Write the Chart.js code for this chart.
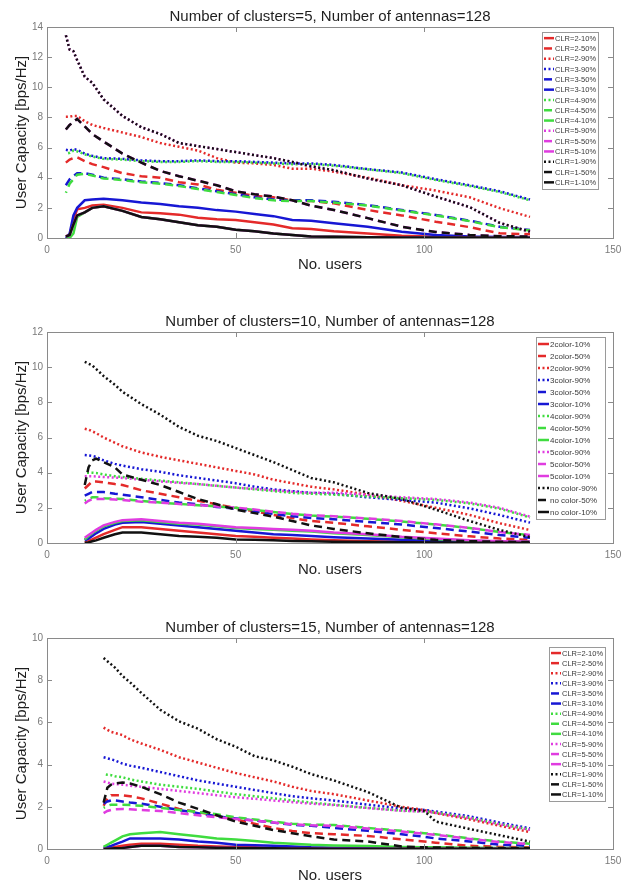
<!DOCTYPE html>
<html>
<head>
<meta charset="utf-8">
<script src="https://cdn.jsdelivr.net/npm/chart.js@4/dist/chart.umd.min.js"></script>
<style>
  html, body { margin: 0; padding: 0; background: #fff; }
  body { width: 634px; height: 883px; position: relative; overflow: hidden; }
  canvas { position: absolute; left: 0; }
</style>
</head>
<body>
<canvas id="c5" width="634" height="274" style="top:0px"></canvas>
<canvas id="c10" width="634" height="274" style="top:305px"></canvas>
<canvas id="c15" width="634" height="274" style="top:611px"></canvas>
<script>
// ---- 5 clusters ----
const u5 = [5, 6, 7, 8, 10, 12, 15, 20, 25, 30, 35, 40, 45, 50, 55, 60, 65, 70, 76, 85, 94, 103, 112, 120, 128];
const c5_2_10 = [0.1, 0.2, 1.2, 1.9, 2.0, 2.15, 2.2, 2.0, 1.7, 1.65, 1.55, 1.35, 1.25, 1.2, 1.05, 0.9, 0.65, 0.6, 0.45, 0.3, 0.15, 0.08, 0.05, 0.04, 0.03];
const c5_2_50 = [5.0, 5.2, 5.3, 5.35, 5.1, 4.9, 4.7, 4.3, 4.1, 4.0, 3.7, 3.55, 3.2, 3.0, 2.8, 2.7, 2.5, 2.45, 2.3, 1.86, 1.5, 1.08, 0.72, 0.31, 0.25];
const c5_2_90 = [8.05, 8.05, 8.1, 8.1, 7.75, 7.5, 7.3, 7.0, 6.7, 6.3, 6.05, 5.8, 5.3, 5.0, 4.95, 4.85, 4.6, 4.6, 4.4, 4.0, 3.5, 3.15, 2.7, 1.98, 1.4];
const c5_3_90 = [5.85, 5.8, 5.9, 5.85, 5.6, 5.45, 5.3, 5.25, 5.15, 5.1, 5.1, 5.15, 5.1, 5.1, 5.05, 5.0, 4.95, 4.95, 4.85, 4.57, 4.35, 3.9, 3.5, 3.1, 2.55];
const c5_3_50 = [3.5, 3.9, 4.1, 4.3, 4.3, 4.2, 4.0, 3.9, 3.75, 3.65, 3.5, 3.3, 3.1, 2.9, 2.7, 2.55, 2.5, 2.5, 2.4, 2.18, 1.86, 1.53, 1.15, 0.75, 0.53];
const c5_3_10 = [0.0, 0.3, 1.5, 2.0, 2.5, 2.55, 2.6, 2.5, 2.35, 2.25, 2.1, 2.0, 1.85, 1.75, 1.6, 1.45, 1.2, 1.15, 0.98, 0.75, 0.42, 0.2, 0.1, 0.06, 0.05];
const c5_4_90 = [5.6, 5.65, 5.8, 5.75, 5.55, 5.4, 5.25, 5.2, 5.1, 5.05, 5.05, 5.1, 5.05, 5.05, 5.0, 4.95, 4.9, 4.9, 4.8, 4.55, 4.3, 3.85, 3.45, 3.05, 2.5];
const c5_4_50 = [3.0, 3.6, 3.9, 4.2, 4.25, 4.15, 3.95, 3.85, 3.7, 3.6, 3.45, 3.25, 3.05, 2.85, 2.65, 2.5, 2.45, 2.45, 2.35, 2.15, 1.82, 1.5, 1.12, 0.72, 0.5];
const c5_4_10 = [0.0, 0.0, 0.3, 1.4, 1.7, 2.0, 2.1, 1.8, 1.4, 1.25, 1.05, 0.85, 0.75, 0.55, 0.45, 0.3, 0.2, 0.1, 0.08, 0.05, 0.04, 0.03, 0.03, 0.02, 0.02];
const c5_5_90 = [13.45, 12.5, 12.4, 11.8, 10.7, 10.3, 9.2, 8.1, 7.35, 6.9, 6.3, 6.1, 5.9, 5.7, 5.5, 5.3, 5.05, 4.75, 4.5, 3.95, 3.5, 2.75, 2.05, 1.0, 0.42];
const c5_5_50 = [7.2, 7.5, 7.7, 7.9, 7.4, 6.9, 6.4, 5.6, 5.0, 4.45, 4.1, 3.8, 3.5, 3.1, 2.9, 2.75, 2.5, 2.15, 1.86, 1.32, 0.75, 0.4, 0.2, 0.12, 0.1];
const c5_5_10 = [0.1, 0.2, 0.9, 1.5, 1.7, 2.0, 2.1, 1.8, 1.4, 1.25, 1.05, 0.85, 0.75, 0.55, 0.45, 0.3, 0.2, 0.1, 0.08, 0.05, 0.04, 0.03, 0.03, 0.02, 0.02];
const c5_1_90 = [13.45, 12.5, 12.4, 11.8, 10.7, 10.3, 9.2, 8.1, 7.35, 6.9, 6.3, 6.1, 5.9, 5.7, 5.5, 5.3, 5.05, 4.75, 4.5, 3.95, 3.5, 2.75, 2.05, 1.0, 0.42];
const c5_1_50 = [7.2, 7.5, 7.7, 7.9, 7.4, 6.9, 6.4, 5.6, 5.0, 4.45, 4.1, 3.8, 3.5, 3.1, 2.9, 2.75, 2.5, 2.15, 1.86, 1.32, 0.75, 0.4, 0.2, 0.12, 0.1];
const c5_1_10 = [0.1, 0.2, 0.9, 1.5, 1.7, 2.0, 2.1, 1.8, 1.4, 1.25, 1.05, 0.85, 0.75, 0.55, 0.45, 0.3, 0.2, 0.1, 0.08, 0.05, 0.04, 0.03, 0.03, 0.02, 0.02];

// ---- 10 clusters ----
const u10 = [10, 11, 12, 13, 15, 18, 20, 25, 30, 35, 40, 45, 50, 55, 60, 65, 70, 76, 85, 94, 103, 112, 120, 128];
const c10_2_10 = [0.05, 0.1, 0.2, 0.3, 0.5, 0.75, 0.9, 0.9, 0.8, 0.7, 0.6, 0.5, 0.4, 0.35, 0.3, 0.25, 0.2, 0.15, 0.1, 0.07, 0.05, 0.04, 0.03, 0.03];
const c10_2_50 = [3.1, 3.3, 3.5, 3.5, 3.45, 3.35, 3.3, 3.0, 2.8, 2.6, 2.4, 2.2, 2.0, 1.8, 1.6, 1.42, 1.25, 1.15, 0.95, 0.75, 0.55, 0.38, 0.25, 0.18];
const c10_2_90 = [6.5, 6.45, 6.35, 6.25, 6.0, 5.7, 5.5, 5.15, 4.9, 4.7, 4.5, 4.3, 4.1, 3.9, 3.6, 3.4, 3.2, 3.05, 2.75, 2.4, 2.0, 1.6, 1.12, 0.74];
const c10_3_90 = [5.0, 4.98, 4.95, 4.9, 4.7, 4.5, 4.4, 4.2, 4.05, 3.85, 3.7, 3.55, 3.4, 3.2, 3.05, 2.95, 2.85, 2.8, 2.6, 2.45, 2.3, 1.97, 1.59, 1.16];
const c10_3_50 = [2.7, 2.8, 2.9, 2.9, 2.9, 2.8, 2.75, 2.6, 2.45, 2.3, 2.2, 2.05, 1.95, 1.8, 1.65, 1.52, 1.42, 1.35, 1.2, 1.05, 0.85, 0.65, 0.45, 0.3];
const c10_3_10 = [0.15, 0.25, 0.4, 0.55, 0.8, 1.05, 1.15, 1.2, 1.1, 1.0, 0.9, 0.8, 0.7, 0.6, 0.5, 0.45, 0.4, 0.33, 0.25, 0.18, 0.12, 0.08, 0.06, 0.05];
const c10_4_90 = [4.0, 4.0, 4.0, 3.98, 3.9, 3.8, 3.75, 3.65, 3.55, 3.45, 3.35, 3.25, 3.15, 3.05, 2.95, 2.85, 2.8, 2.75, 2.65, 2.55, 2.45, 2.25, 1.95, 1.45];
const c10_4_50 = [2.4, 2.5, 2.6, 2.6, 2.55, 2.52, 2.5, 2.4, 2.3, 2.22, 2.15, 2.08, 2.0, 1.88, 1.76, 1.65, 1.56, 1.5, 1.38, 1.22, 1.05, 0.85, 0.62, 0.45];
const c10_4_10 = [0.2, 0.4, 0.55, 0.7, 0.95, 1.15, 1.25, 1.3, 1.2, 1.1, 1.05, 0.95, 0.85, 0.8, 0.75, 0.7, 0.65, 0.55, 0.45, 0.32, 0.22, 0.13, 0.09, 0.07];
const c10_5_90 = [3.8, 3.8, 3.8, 3.78, 3.75, 3.72, 3.7, 3.6, 3.5, 3.42, 3.35, 3.25, 3.15, 3.08, 3.0, 2.92, 2.85, 2.86, 2.75, 2.6, 2.5, 2.3, 2.0, 1.5];
const c10_5_50 = [2.25, 2.4, 2.5, 2.5, 2.5, 2.47, 2.45, 2.35, 2.3, 2.22, 2.15, 2.08, 2.02, 1.9, 1.78, 1.66, 1.58, 1.52, 1.4, 1.25, 1.06, 0.86, 0.62, 0.46];
const c10_5_10 = [0.3, 0.45, 0.6, 0.75, 1.0, 1.2, 1.3, 1.35, 1.25, 1.15, 1.1, 1.0, 0.9, 0.85, 0.8, 0.75, 0.7, 0.6, 0.5, 0.35, 0.25, 0.15, 0.1, 0.08];
const c10_1_90 = [10.3, 10.2, 10.1, 9.9, 9.5, 9.0, 8.6, 7.9, 7.3, 6.6, 6.1, 5.8, 5.4, 5.0, 4.6, 4.15, 3.7, 3.45, 2.85, 2.5, 1.9, 1.25, 0.74, 0.34];
const c10_1_50 = [3.3, 4.3, 4.7, 4.8, 4.6, 4.3, 3.9, 3.6, 3.3, 2.9, 2.5, 2.2, 1.9, 1.7, 1.5, 1.25, 1.0, 0.8, 0.55, 0.34, 0.18, 0.1, 0.07, 0.05];
const c10_1_10 = [0.0, 0.03, 0.1, 0.15, 0.3, 0.5, 0.6, 0.6, 0.5, 0.4, 0.35, 0.3, 0.2, 0.18, 0.15, 0.12, 0.1, 0.07, 0.05, 0.04, 0.03, 0.02, 0.02, 0.02];

// ---- 15 clusters ----
const u15 = [15, 16, 17, 18, 20, 22, 25, 30, 35, 40, 45, 50, 55, 60, 65, 70, 76, 85, 94, 100, 103, 112, 120, 128];
const c15_2_10 = [0.0, 0.03, 0.06, 0.1, 0.15, 0.2, 0.25, 0.25, 0.2, 0.15, 0.12, 0.1, 0.08, 0.05, 0.04, 0.03, 0.02, 0.02, 0.02, 0.02, 0.02, 0.02, 0.02, 0.02];
const c15_2_50 = [2.05, 2.4, 2.55, 2.55, 2.55, 2.5, 2.4, 2.15, 1.9, 1.75, 1.6, 1.4, 1.2, 1.0, 0.85, 0.75, 0.7, 0.62, 0.46, 0.35, 0.3, 0.15, 0.1, 0.08];
const c15_2_90 = [5.75, 5.65, 5.55, 5.5, 5.4, 5.2, 5.0, 4.7, 4.35, 4.1, 3.85, 3.6, 3.4, 3.2, 2.95, 2.75, 2.6, 2.3, 2.0, 1.85, 1.7, 1.4, 1.1, 0.8];
const c15_3_90 = [4.35, 4.3, 4.25, 4.2, 4.05, 3.95, 3.85, 3.65, 3.45, 3.25, 3.1, 2.95, 2.8, 2.65, 2.5, 2.4, 2.3, 2.1, 1.92, 1.85, 1.78, 1.55, 1.25, 0.98];
const c15_3_50 = [2.15, 2.25, 2.3, 2.3, 2.25, 2.2, 2.15, 2.0, 1.85, 1.7, 1.55, 1.45, 1.35, 1.25, 1.15, 1.1, 1.0, 0.86, 0.7, 0.58, 0.5, 0.36, 0.2, 0.15];
const c15_3_10 = [0.05, 0.1, 0.15, 0.22, 0.35, 0.5, 0.5, 0.5, 0.45, 0.35, 0.3, 0.2, 0.18, 0.15, 0.12, 0.08, 0.06, 0.05, 0.04, 0.03, 0.03, 0.03, 0.02, 0.02];
const c15_4_90 = [3.55, 3.52, 3.5, 3.45, 3.4, 3.3, 3.2, 3.05, 2.95, 2.85, 2.72, 2.6, 2.5, 2.4, 2.3, 2.2, 2.1, 1.95, 1.82, 1.78, 1.72, 1.48, 1.18, 0.92];
const c15_4_50 = [1.95, 2.05, 2.1, 2.1, 2.1, 2.08, 2.05, 1.95, 1.85, 1.75, 1.65, 1.5, 1.4, 1.3, 1.2, 1.15, 1.14, 1.0, 0.86, 0.75, 0.7, 0.5, 0.35, 0.25];
const c15_4_10 = [0.1, 0.2, 0.3, 0.4, 0.6, 0.7, 0.75, 0.8, 0.7, 0.6, 0.5, 0.45, 0.38, 0.3, 0.25, 0.2, 0.17, 0.14, 0.1, 0.08, 0.08, 0.06, 0.05, 0.05];
const c15_5_90 = [3.2, 3.15, 3.1, 3.08, 3.05, 3.0, 2.95, 2.85, 2.75, 2.65, 2.55, 2.45, 2.38, 2.3, 2.22, 2.15, 2.08, 1.94, 1.81, 1.77, 1.71, 1.47, 1.17, 0.91];
const c15_5_50 = [1.7, 1.8, 1.85, 1.88, 1.9, 1.88, 1.85, 1.8, 1.7, 1.6, 1.5, 1.42, 1.35, 1.26, 1.17, 1.12, 1.1, 0.97, 0.83, 0.72, 0.67, 0.48, 0.33, 0.23];
const c15_5_10 = [0.0, 0.01, 0.02, 0.03, 0.05, 0.1, 0.15, 0.15, 0.1, 0.08, 0.06, 0.05, 0.04, 0.03, 0.02, 0.02, 0.01, 0.01, 0.01, 0.01, 0.01, 0.01, 0.01, 0.01];
const c15_1_90 = [9.05, 8.9, 8.75, 8.6, 8.2, 7.9, 7.4, 6.6, 6.05, 5.7, 5.2, 4.85, 4.4, 4.2, 3.9, 3.55, 3.25, 2.7, 1.95, 1.8, 1.3, 0.95, 0.65, 0.35];
const c15_1_50 = [2.2, 2.9, 3.05, 3.1, 3.15, 3.1, 2.95, 2.6, 2.2, 1.9, 1.6, 1.3, 1.1, 0.9, 0.75, 0.6, 0.45, 0.36, 0.12, 0.08, 0.07, 0.05, 0.04, 0.03];
const c15_1_10 = [0.0, 0.01, 0.02, 0.03, 0.05, 0.1, 0.15, 0.15, 0.1, 0.08, 0.06, 0.05, 0.04, 0.03, 0.02, 0.02, 0.01, 0.01, 0.01, 0.01, 0.01, 0.01, 0.01, 0.01];

const clrLabels = ['CLR=2-10%', 'CLR=2-50%', 'CLR=2-90%', 'CLR=3-90%', 'CLR=3-50%', 'CLR=3-10%',
  'CLR=4-90%', 'CLR=4-50%', 'CLR=4-10%', 'CLR=5-90%', 'CLR=5-50%', 'CLR=5-10%',
  'CLR=1-90%', 'CLR=1-50%', 'CLR=1-10%'];
const colorLabels = ['2color-10%', '2color-50%', '2color-90%', '3color-90%', '3color-50%', '3color-10%',
  '4color-90%', '4color-50%', '4color-10%', '5color-90%', '5color-50%', '5color-10%',
  'no color-90%', 'no color-50%', 'no color-10%'];

const yTicks5 = [0, 14], yTicks10 = [0, 12], yTicks15 = [0, 10];
const xTicks = [0, 150];

// line colour / style for each legend slot
const RED = '#e42a2a', BLUE = '#1717d4', GREEN = '#3fdc3f', MAG = '#e03ce0', BLACK = '#111111';
const slotColor = [RED, RED, RED, BLUE, BLUE, BLUE, GREEN, GREEN, GREEN, MAG, MAG, MAG, BLACK, BLACK, BLACK];
const slotStyle = ['solid', 'dash', 'dot', 'dot', 'dash', 'solid', 'dot', 'dash', 'solid', 'dot', 'dash', 'solid', 'dot', 'dash', 'solid'];
const DASH = { solid: [], dash: [8, 5], dot: [2, 2.5] };
const PHASE = { solid: 0, dash: 6.5, dot: 2.25 };

const FONT = "'Liberation Sans', Arial, Helvetica, sans-serif";

// axes box, inward ticks on all four sides, and a boxed legend inside the plot
const framePlugin = {
  id: 'frame',
  afterDatasetsDraw(chart, args, opts) {
    const { ctx, chartArea: a, scales: { x, y } } = chart;
    ctx.save();
    ctx.strokeStyle = '#8a8a8a';
    ctx.lineWidth = 1;
    ctx.setLineDash([]);
    ctx.strokeRect(Math.round(a.left) + 0.5, Math.round(a.top) + 0.5,
      Math.round(a.right - a.left), Math.round(a.bottom - a.top));
    ctx.beginPath();
    x.ticks.forEach(t => {
      const px = Math.round(x.getPixelForValue(t.value)) + 0.5;
      ctx.moveTo(px, a.bottom); ctx.lineTo(px, a.bottom - 5);
      ctx.moveTo(px, a.top); ctx.lineTo(px, a.top + 5);
    });
    y.ticks.forEach(t => {
      const py = Math.round(y.getPixelForValue(t.value)) + 0.5;
      ctx.moveTo(a.left, py); ctx.lineTo(a.left + 5, py);
      ctx.moveTo(a.right, py); ctx.lineTo(a.right - 5, py);
    });
    ctx.stroke();

    // legend
    const L = opts.legend;
    const sets = chart.data.datasets;
    const lx = a.right - L.right - L.width;
    const ly = a.top + L.top;
    const lh = L.rowHeight * sets.length + 2;
    ctx.fillStyle = '#ffffff';
    ctx.fillRect(lx, ly, L.width, lh);
    ctx.strokeStyle = '#9a9a9a';
    ctx.strokeRect(Math.round(lx) + 0.5, Math.round(ly) + 0.5, Math.round(L.width), Math.round(lh));
    ctx.font = L.fontSize + 'px ' + FONT;
    ctx.textBaseline = 'middle';
    sets.forEach((ds, i) => {
      const cy = ly + 1 + L.rowHeight * (i + 0.5);
      ctx.strokeStyle = ds.borderColor;
      ctx.lineWidth = 2.5;
      ctx.setLineDash(ds.borderDash);
      ctx.lineDashOffset = 0;
      ctx.beginPath();
      ctx.moveTo(lx + 2, cy);
      ctx.lineTo(lx + 2 + L.sample, cy);
      ctx.stroke();
      ctx.setLineDash([]);
      ctx.fillStyle = '#3a3a3a';
      ctx.fillText(ds.label, lx + 3 + L.sample, cy + 0.5);
    });
    ctx.restore();
  }
};

function buildSets(users, series, labels) {
  return series.map((vals, i) => {
    const st = slotStyle[i];
    const col = slotColor[i];
    // green dashes start half a period later so they interleave with the blue ones
    const shifted = col === GREEN;
    return {
      label: labels[i],
      data: users.map((u, k) => ({ x: u, y: vals[k] })),
      borderColor: col,
      backgroundColor: col,
      borderWidth: 2.5,
      borderDash: DASH[st],
      borderDashOffset: shifted ? PHASE[st] : 0,
      borderCapStyle: 'butt',
      pointRadius: 0,
      tension: 0,
      fill: false,
      order: series.length - i
    };
  });
}

function drawPanel(id, title, users, series, labels, yRange, legend) {
  new Chart(document.getElementById(id), {
    type: 'line',
    data: { datasets: buildSets(users, series, labels) },
    options: {
      responsive: false,
      animation: false,
      events: [],
      layout: { padding: { left: 0, right: 21, top: 0, bottom: 0 } },
      plugins: {
        legend: { display: false },
        tooltip: { enabled: false },
        title: {
          display: true,
          fullSize: false,
          text: title,
          color: '#1e1e1e',
          font: { family: FONT, size: 15, weight: 'normal' },
          padding: { top: 7.5, bottom: 1.5 }
        },
        frame: { legend: legend }
      },
      scales: {
        x: {
          type: 'linear',
          min: xTicks[0],
          max: xTicks[1],
          grid: { display: false, drawTicks: false },
          border: { display: false },
          ticks: { stepSize: 50, color: '#7a7a7a', padding: 6, font: { family: FONT, size: 10 } },
          title: {
            display: true,
            text: 'No. users',
            color: '#1e1e1e',
            font: { family: FONT, size: 15 },
            padding: { top: 0, bottom: 0 }
          },
          afterFit: s => { s.height = 36; }
        },
        y: {
          min: yRange[0],
          max: yRange[1],
          grid: { display: false, drawTicks: false },
          border: { display: false },
          ticks: { stepSize: 2, color: '#7a7a7a', padding: 4, font: { family: FONT, size: 10 } },
          title: {
            display: true,
            text: 'User Capacity [bps/Hz]',
            color: '#1e1e1e',
            font: { family: FONT, size: 15 },
            padding: { top: 13, bottom: 0 }
          },
          afterFit: s => { s.width = 47; }
        }
      }
    },
    plugins: [framePlugin]
  });
}

drawPanel('c5', 'Number of clusters=5, Number of antennas=128', u5,
  [c5_2_10, c5_2_50, c5_2_90, c5_3_90, c5_3_50, c5_3_10, c5_4_90, c5_4_50, c5_4_10,
   c5_5_90, c5_5_50, c5_5_10, c5_1_90, c5_1_50, c5_1_10],
  clrLabels, yTicks5,
  { right: 15, top: 5, width: 56, rowHeight: 10.3, fontSize: 7.5, sample: 10 });

drawPanel('c10', 'Number of clusters=10, Number of antennas=128', u10,
  [c10_2_10, c10_2_50, c10_2_90, c10_3_90, c10_3_50, c10_3_10, c10_4_90, c10_4_50, c10_4_10,
   c10_5_90, c10_5_50, c10_5_10, c10_1_90, c10_1_50, c10_1_10],
  colorLabels, yTicks10,
  { right: 8, top: 5, width: 69, rowHeight: 12, fontSize: 8, sample: 11 });

drawPanel('c15', 'Number of clusters=15, Number of antennas=128', u15,
  [c15_2_10, c15_2_50, c15_2_90, c15_3_90, c15_3_50, c15_3_10, c15_4_90, c15_4_50, c15_4_10,
   c15_5_90, c15_5_50, c15_5_10, c15_1_90, c15_1_50, c15_1_10],
  clrLabels, yTicks15,
  { right: 8, top: 9, width: 56, rowHeight: 10.1, fontSize: 7.5, sample: 10 });
</script>
</body>
</html>
